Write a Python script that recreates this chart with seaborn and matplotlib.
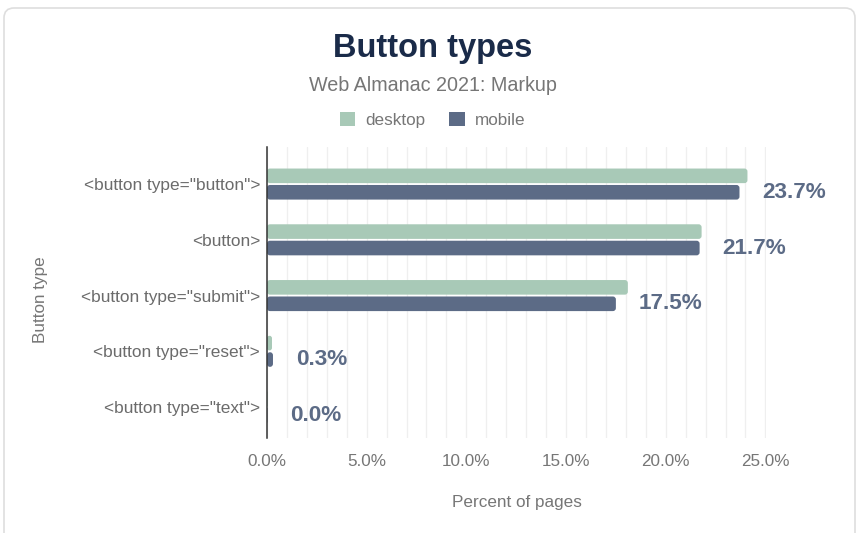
import matplotlib
matplotlib.use("Agg")
import matplotlib.pyplot as plt
import seaborn as sns
import pandas as pd
from matplotlib.patches import FancyBboxPatch, Patch
from matplotlib.ticker import FuncFormatter, MultipleLocator, FixedLocator
from matplotlib.transforms import IdentityTransform

# ---------------- data ----------------
categories = ['<button type="button">', '<button>', '<button type="submit">',
              '<button type="reset">', '<button type="text">']
desktop = [24.1, 21.8, 18.1, 0.25, 0.03]
mobile = [23.7, 21.7, 17.5, 0.3, 0.02]
series = ["desktop", "mobile"]
x_ticks = [0, 5, 10, 15, 20, 25]

title = "Button types"
subtitle = "Web Almanac 2021: Markup"
x_label = "Percent of pages"
y_label = "Button type"

GREEN = "#a8c9b7"
NAVY = "#5c6b86"
TITLE_C = "#1a2b49"
GRAY = "#767676"

df = pd.DataFrame({
    "Button type": categories * 2,
    "Percent": desktop + mobile,
    "device": [series[0]] * len(desktop) + [series[1]] * len(mobile),
})

sns.set_theme(style="white")
plt.rcParams['font.family'] = ['Liberation Sans', 'DejaVu Sans']

W, H = 859, 533
fig = plt.figure(figsize=(W / 100, H / 100), dpi=100)
fig.patch.set_facecolor("white")

# card border
card = FancyBboxPatch((4, -30), 851, 555, boxstyle="round,pad=0,rounding_size=10",
                      transform=IdentityTransform(), facecolor="white",
                      edgecolor="#dedede", linewidth=1.2, zorder=0)
fig.add_artist(card)

ax_left, ax_right, ax_top, ax_bot = 267, 766, 146.7, 438.3
ax = fig.add_axes([ax_left / W, 1 - ax_bot / H, (ax_right - ax_left) / W, (ax_bot - ax_top) / H])
ax.set_facecolor("none")

sns.barplot(data=df, y="Button type", x="Percent", hue="device", order=categories,
            hue_order=series, palette=[GREEN, NAVY], orient="h", width=0.59, gap=0.112,
            saturation=1, errorbar=None, legend=False, ax=ax)

xmax = 25.03
ax.set_xlim(0, xmax)
ax.set_ylim(4.56, -0.67)

ax.xaxis.set_major_locator(FixedLocator(x_ticks))
ax.xaxis.set_minor_locator(MultipleLocator(1))
ax.xaxis.set_major_formatter(FuncFormatter(lambda v, p: f"{v:.1f}%"))
ax.grid(True, axis="x", which="both", color="#efefef", linewidth=0.9)
ax.set_axisbelow(True)
ax.tick_params(axis="x", which="both", length=0, pad=11.5, labelsize=12.3, labelcolor=GRAY)
ax.tick_params(axis="y", length=0, pad=5, labelsize=12.4, labelcolor="#6b6b6b")
for s in ["top", "right", "bottom"]:
    ax.spines[s].set_visible(False)
ax.spines["left"].set_color("#333333")
ax.spines["left"].set_linewidth(1.1)
ax.spines["left"].set_zorder(5)
ax.set_xlabel("")
ax.set_ylabel("")

# value labels next to mobile bars
for bar, v in zip(ax.containers[1], mobile):
    yc = bar.get_y() + bar.get_height() / 2
    ax.annotate(f"{v:.1f}%", xy=(bar.get_x() + bar.get_width(), yc), xytext=(16.5, 0),
                textcoords="offset points", ha="left", va="center", fontsize=16.2,
                fontweight="bold", color=NAVY, annotation_clip=False)

# rounded corners on the bars
px_x = (ax_right - ax_left) / xmax
px_y = (ax_bot - ax_top) / (4.56 + 0.67)
asp = px_x / px_y
r_px = 3.0
for cont in ax.containers:
    for bar in cont:
        x0, y0, w, h = bar.get_x(), bar.get_y(), bar.get_width(), bar.get_height()
        r = min(r_px / px_x, w / 2, (h / asp) / 2)
        fb = FancyBboxPatch((x0, y0), w, h, boxstyle=f"round,pad=0,rounding_size={r}",
                            mutation_aspect=asp, facecolor=bar.get_facecolor(),
                            edgecolor="none", zorder=3)
        ax.add_patch(fb)
        bar.set_visible(False)

# titles and labels
fig.text(432.5 / W, 1 - 48 / H, title, ha="center", va="center", fontsize=23.5,
         fontweight="bold", color=TITLE_C)
fig.text(433 / W, 1 - 85 / H, subtitle, ha="center", va="center", fontsize=14.2, color=GRAY)
fig.text((ax_left + ax_right) / 2 / W, 1 - 502 / H, x_label, ha="center", va="center",
         fontsize=12.3, color=GRAY)
fig.text(40 / W, 1 - 300 / H, y_label, ha="center", va="center", rotation=90,
         fontsize=12.3, color=GRAY)

handles = [Patch(facecolor=c, edgecolor="none") for c in [GREEN, NAVY]]
fig.legend(handles, series, loc="center", bbox_to_anchor=(432.5 / W, 1 - 120 / H), ncol=2,
           frameon=False, fontsize=12.3, handlelength=0.9, handleheight=0.9,
           handletextpad=0.6, columnspacing=1.4, labelcolor=GRAY)

fig.savefig("out.png", dpi=100, facecolor="white")
